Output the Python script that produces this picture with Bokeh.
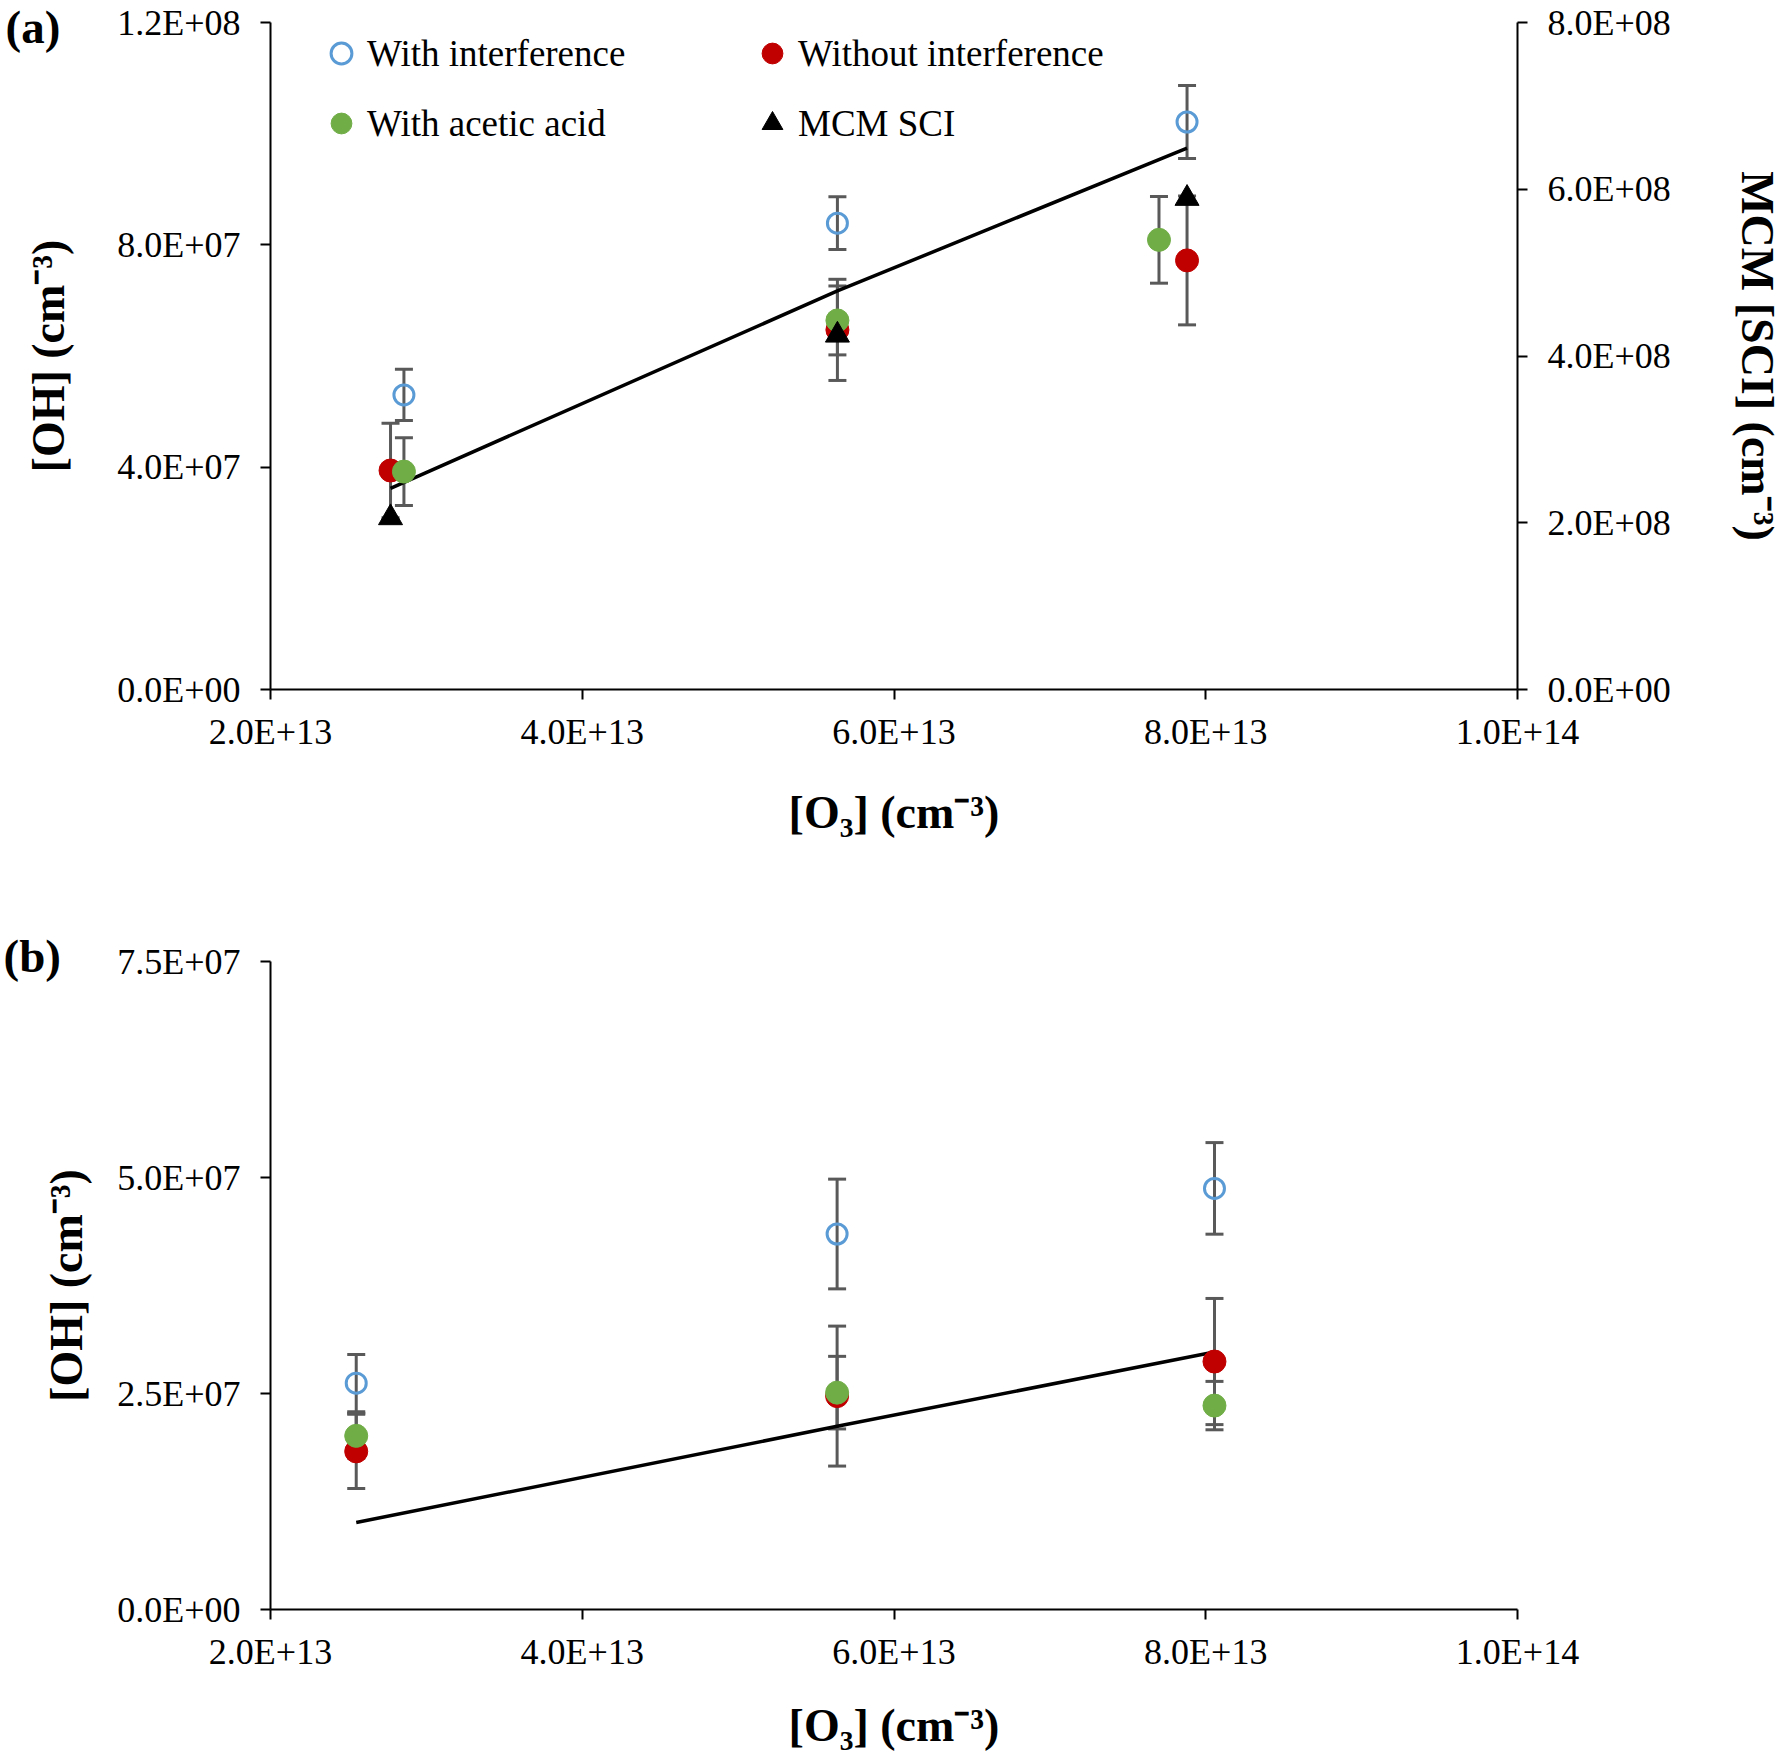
from bokeh.plotting import figure
from bokeh.layouts import column
from bokeh.models import (Range1d, LinearAxis, FixedTicker, CustomJSTickFormatter,
                          Whisker, TeeHead, ColumnDataSource, Legend, LegendItem, Title)
from bokeh.embed import file_html
from bokeh.resources import INLINE

# ---- panel (a) data ----
a_x_ticks = [2e13, 4e13, 6e13, 8e13, 1e14]
a_y_ticks = [0, 4e7, 8e7, 1.2e8]
a_sci_ticks = [0, 2e8, 4e8, 6e8, 8e8]

a_int_x = [2.856e13, 5.637e13, 7.88e13]      # with interference
a_int_y = [5.30e7, 8.39e7, 1.021e8]
a_int_err = [4.6e6, 4.75e6, 6.55e6]

a_noint_x = [2.77e13, 5.637e13, 7.88e13]     # without interference
a_noint_y = [3.94e7, 6.47e7, 7.72e7]
a_noint_err = [8.5e6, 9.1e6, 1.16e7]

a_acid_x = [2.856e13, 5.637e13, 7.70e13]     # with acetic acid
a_acid_y = [3.92e7, 6.64e7, 8.09e7]
a_acid_err = [6.1e6, 6.2e6, 7.8e6]

a_sci_x = [2.77e13, 5.637e13, 7.88e13]       # MCM SCI (right axis)
a_sci_y = [2.06e8, 4.25e8, 5.89e8]

a_line_x = [2.77e13, 5.637e13, 7.88e13]
a_line_y = [3.62e7, 7.17e7, 9.74e7]

# ---- panel (b) data ----
b_x_ticks = [2e13, 4e13, 6e13, 8e13, 1e14]
b_y_ticks = [0, 2.5e7, 5e7, 7.5e7]

b_x = [2.55e13, 5.635e13, 8.056e13]
b_int_y = [2.62e7, 4.346e7, 4.874e7]
b_int_err = [3.3e6, 6.35e6, 5.3e6]
b_noint_y = [1.83e7, 2.47e7, 2.87e7]
b_noint_err = [4.3e6, 8.1e6, 7.3e6]
b_acid_y = [2.01e7, 2.51e7, 2.36e7]
b_acid_err = [2.6e6, 4.2e6, 2.8e6]
b_line_y = [1.006e7, 2.12e7, 2.98e7]

FONT = "Liberation Serif"
BLUE = "#5B9BD5"
RED = "#C00000"
GREEN = "#70AD47"
ERR = "#595959"

fmt = CustomJSTickFormatter(code="""
const s = tick.toExponential(1).toUpperCase();
const parts = s.split("E");
const e = parts[1];
return parts[0] + "E" + e[0] + e.slice(1).padStart(2, "0");
""")


def style_axis(ax, ticks, label, tick_standoff, label_standoff):
    ax.ticker = FixedTicker(ticks=ticks)
    ax.formatter = fmt
    ax.axis_label = label
    ax.axis_label_text_font = FONT
    ax.axis_label_text_font_style = "bold"
    ax.axis_label_text_font_size = "46px"
    ax.axis_label_text_color = "black"
    ax.axis_label_standoff = label_standoff
    ax.major_label_text_font = FONT
    ax.major_label_text_font_size = "36px"
    ax.major_label_text_color = "black"
    ax.major_label_standoff = tick_standoff
    ax.axis_line_width = 2
    ax.axis_line_color = "black"
    ax.major_tick_line_width = 2
    ax.major_tick_line_color = "black"
    ax.major_tick_in = 0
    ax.major_tick_out = 10
    ax.minor_tick_line_color = None


def errbars(p, x, y, err):
    src = ColumnDataSource(dict(x=x,
                                lo=[v - e for v, e in zip(y, err)],
                                hi=[v + e for v, e in zip(y, err)]))
    w = Whisker(source=src, base="x", lower="lo", upper="hi",
                line_color=ERR, line_width=3,
                upper_head=TeeHead(size=18, line_color=ERR, line_width=3),
                lower_head=TeeHead(size=18, line_color=ERR, line_width=3))
    p.add_layout(w)


def make_fig(h, border_top, border_bottom, border_left, border_right, yr):
    p = figure(width=1787, height=h, x_range=Range1d(2e13, 1e14), y_range=yr,
               output_backend="svg", toolbar_location=None,
               min_border_left=border_left, min_border_right=border_right,
               min_border_top=border_top, min_border_bottom=border_bottom,
               outline_line_color=None)
    p.xgrid.visible = False
    p.ygrid.visible = False
    return p


def panel_tag(p, text, shift, standoff):
    # "(a)" / "(b)" tag at the far left, near the top edge of the frame
    p.add_layout(Title(text=text, align="left", offset=shift, standoff=standoff,
                       text_font=FONT, text_font_style="bold", text_font_size="47px",
                       text_color="black"), "above")


# ================= panel (a) =================
p1 = make_fig(842, 22, 153, 268, 268, Range1d(0, 1.2e8))
p1.extra_y_ranges = {"sci": Range1d(0, 8e8)}

style_axis(p1.xaxis[0], a_x_ticks, "[O\u2083] (cm\u207b\u00b3)", 12, 32)
style_axis(p1.yaxis[0], a_y_ticks, "[OH] (cm\u207b\u00b3)", 20, 40)
right_ax = LinearAxis(y_range_name="sci")
style_axis(right_ax, a_sci_ticks, "MCM [SCI] (cm\u207b\u00b3)", 20, 58)
p1.add_layout(right_ax, "right")

errbars(p1, a_int_x, a_int_y, a_int_err)
errbars(p1, a_noint_x, a_noint_y, a_noint_err)
errbars(p1, a_acid_x, a_acid_y, a_acid_err)

p1.line(a_line_x, a_line_y, line_color="black", line_width=3.5)
r_int = p1.scatter(a_int_x, a_int_y, marker="circle", size=20, fill_color=None,
                   line_color=BLUE, line_width=3)
r_noint = p1.scatter(a_noint_x, a_noint_y, marker="circle", size=23,
                     fill_color=RED, line_color=RED)
r_acid = p1.scatter(a_acid_x, a_acid_y, marker="circle", size=23,
                    fill_color=GREEN, line_color=GREEN)
r_sci = p1.scatter(a_sci_x, a_sci_y, marker="triangle", size=24, y_range_name="sci",
                   fill_color="black", line_color="black")

legend = Legend(items=[LegendItem(label="With interference", renderers=[r_int]),
                       LegendItem(label="Without interference", renderers=[r_noint]),
                       LegendItem(label="With acetic acid", renderers=[r_acid]),
                       LegendItem(label="MCM SCI", renderers=[r_sci])],
                orientation="horizontal", ncols=2, location=(39, 532),
                glyph_width=52, glyph_height=56, label_standoff=0,
                label_width=365, label_height=56, spacing=14, padding=6,
                label_text_font=FONT, label_text_font_size="37px",
                label_text_color="black",
                background_fill_alpha=0, border_line_alpha=0)
p1.add_layout(legend)
panel_tag(p1, "(a)", -265, -60)

# ================= panel (b) =================
p2 = make_fig(911, 119, 144, 270, 270, Range1d(0, 7.5e7))

style_axis(p2.xaxis[0], b_x_ticks, "[O\u2083] (cm\u207b\u00b3)", 12, 25)
style_axis(p2.yaxis[0], b_y_ticks, "[OH] (cm\u207b\u00b3)", 20, 22)

errbars(p2, b_x, b_int_y, b_int_err)
errbars(p2, b_x, b_noint_y, b_noint_err)
errbars(p2, b_x, b_acid_y, b_acid_err)

p2.line(b_x, b_line_y, line_color="black", line_width=3.5)
p2.scatter(b_x, b_int_y, marker="circle", size=20, fill_color=None,
           line_color=BLUE, line_width=3)
p2.scatter(b_x, b_noint_y, marker="circle", size=23, fill_color=RED, line_color=RED)
p2.scatter(b_x, b_acid_y, marker="circle", size=23, fill_color=GREEN, line_color=GREEN)
panel_tag(p2, "(b)", -267, -40)

layout = column(p1, p2, spacing=0)
open("out.html", "w").write(file_html(layout, INLINE))
